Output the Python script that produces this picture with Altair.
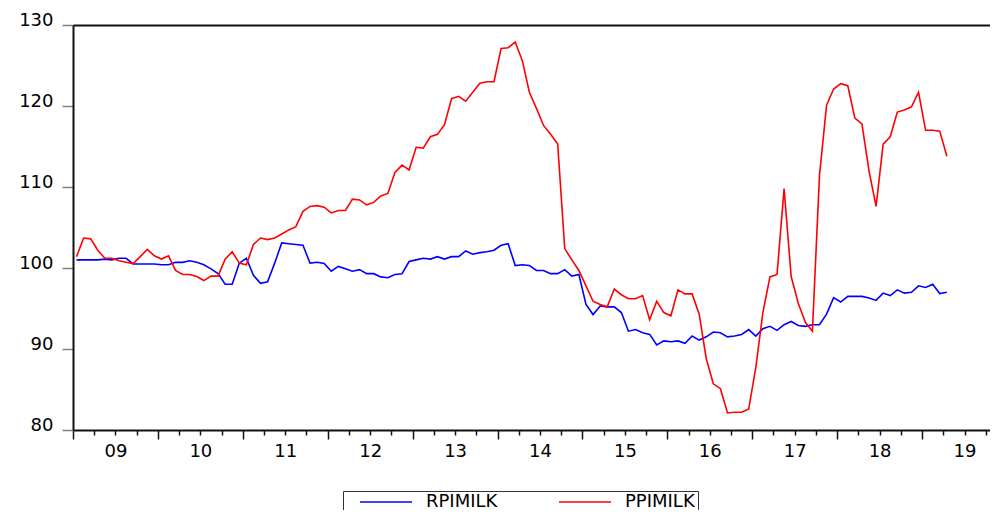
import json
import altair as alt
import pandas as pd

series_names = ["RPIMILK", "PPIMILK"]
series_colors = ["#0000ff", "#ff0000"]
year_labels = ["09", "10", "11", "12", "13", "14", "15", "16", "17", "18", "19"]
y_ticks = [80, 90, 100, 110, 120, 130]

# monthly observations, Jan 2009 .. Apr 2019
rpimilk = [
    101.0, 101.0, 101.0, 101.0, 101.1, 101.0, 101.2, 101.2, 100.5, 100.5, 100.5, 100.5,
    100.4, 100.4, 100.7, 100.7, 100.9, 100.7, 100.4, 99.9, 99.3, 98.0, 98.0, 100.6,
    101.2, 99.1, 98.1, 98.3, 100.6, 103.1, 103.0, 102.9, 102.8, 100.6, 100.7, 100.55,
    99.6, 100.2, 99.9, 99.6, 99.8, 99.3, 99.3, 98.9, 98.8, 99.2, 99.3, 100.8,
    101.0, 101.2, 101.1, 101.4, 101.1, 101.4, 101.4, 102.1, 101.7, 101.9, 102.0, 102.2,
    102.8, 103.0, 100.3, 100.4, 100.3, 99.7, 99.7, 99.3, 99.3, 99.8, 99.0, 99.2,
    95.5, 94.25, 95.3, 95.2, 95.2, 94.5, 92.2, 92.4, 92.0, 91.8, 90.5, 91.0,
    90.9, 91.0, 90.7, 91.6, 91.1, 91.5, 92.1, 92.0, 91.5, 91.6, 91.8, 92.4,
    91.6, 92.5, 92.8, 92.3, 93.0, 93.4, 92.9, 92.8, 93.0, 93.0, 94.3, 96.35,
    95.8, 96.5, 96.5, 96.5, 96.3, 96.0, 96.9, 96.6, 97.3, 96.9, 97.0, 97.8,
    97.6, 98.0, 96.85, 97.0,
]
ppimilk = [
    101.4, 103.7, 103.6, 102.2, 101.2, 101.2, 100.9, 100.7, 100.55, 101.4, 102.3, 101.5,
    101.1, 101.5, 99.7, 99.2, 99.2, 98.95, 98.45, 99.0, 99.0, 101.1, 102.0, 100.6,
    100.4, 102.9, 103.7, 103.5, 103.7, 104.2, 104.7, 105.1, 107.0, 107.6, 107.7, 107.5,
    106.8, 107.1, 107.1, 108.5, 108.4, 107.8, 108.1, 108.9, 109.2, 111.8, 112.7, 112.1,
    114.9, 114.8, 116.2, 116.5, 117.7, 120.9, 121.2, 120.6, 121.7, 122.8, 123.0, 123.0,
    127.1, 127.2, 127.9, 125.6, 121.7, 119.7, 117.6, 116.5, 115.3, 102.4, 101.0, 99.7,
    97.8, 95.9, 95.5, 95.2, 97.4, 96.7, 96.2, 96.2, 96.6, 93.6, 95.9, 94.5,
    94.1, 97.3, 96.8, 96.8, 94.3, 88.8, 85.7, 85.1, 82.1, 82.2, 82.2, 82.6,
    87.7, 94.5, 98.9, 99.2, 109.8, 98.95, 95.65, 93.3, 92.2, 111.4, 120.1, 122.1,
    122.75, 122.5, 118.5, 117.8, 112.0, 107.6, 115.3, 116.2, 119.25, 119.5, 119.9, 121.7,
    117.0, 117.0, 116.9, 113.8,
]

n = len(rpimilk)
month_pos = [i + 0.5 for i in range(n)]  # months since Jan 2009, mid-month
df = pd.DataFrame({
    "month": month_pos * 2,
    "value": rpimilk + ppimilk,
    "series": [series_names[0]] * n + [series_names[1]] * n,
})

FONT = "DejaVu Sans"
FS = 18
quarter_ticks = list(range(0, 130, 3))
label_expr = ("datum.value % 12 == 6 ? " + json.dumps(year_labels)
              + "[floor(datum.value / 12)] : ''")

x_scale = alt.Scale(domain=[0, 129.6], nice=False, zero=False)
y_scale = alt.Scale(domain=[80, 130], nice=False, zero=False)

y_axis = alt.Axis(
    values=y_ticks, tickSize=11, tickColor="#808080", tickWidth=1.5,
    domainColor="#111111", domainWidth=2,
    labelFont=FONT, labelFontSize=FS, labelColor="#000000", labelPadding=9,
    labelOffset=-5, grid=False, title=None)

lines = alt.Chart(df).mark_line(strokeWidth=1.6).encode(
    x=alt.X("month:Q", scale=x_scale, axis=alt.Axis(
        values=quarter_ticks,
        tickSize={"condition": {"test": "datum.value % 12 === 0", "value": 9}, "value": 5},
        tickColor="#111111", tickWidth=1.5,
        domainColor="#111111", domainWidth=2,
        labelExpr=label_expr, labelOverlap=False, labelFlush=False,
        labelFont=FONT, labelFontSize=FS, labelColor="#000000", labelPadding=7,
        grid=False, title=None)),
    y=alt.Y("value:Q", scale=y_scale, axis=y_axis),
    color=alt.Color("series:N", scale=alt.Scale(domain=series_names, range=series_colors),
                    legend=alt.Legend(
                        title=None, orient="none", legendX=270, legendY=466,
                        direction="horizontal", symbolType="stroke", symbolSize=2704,
                        symbolStrokeWidth=1.5, symbolOffset=13, labelFont=FONT,
                        labelFontSize=FS, labelColor="#000000", strokeColor="#333333",
                        padding=3, labelOffset=13, columnPadding=47, clipHeight=16)),
)

top = alt.Chart(df).mark_line(opacity=0).encode(
    x=alt.X("month:Q", scale=x_scale, axis=alt.Axis(
        orient="top", ticks=False, labels=False, domainColor="#111111",
        domainWidth=2, grid=False, title=None)),
    y=alt.Y("value:Q", scale=y_scale, axis=y_axis),
)

chart = alt.layer(lines, top).resolve_axis(x="independent").properties(
    width=917, height=405,
    autosize=alt.AutoSizeParams(type="none"),
    padding={"left": 65, "top": 17, "right": 0, "bottom": 80},
    background="white",
).configure_view(stroke=None)

chart.save("out.html", embed_options={"renderer": "svg", "actions": False})
